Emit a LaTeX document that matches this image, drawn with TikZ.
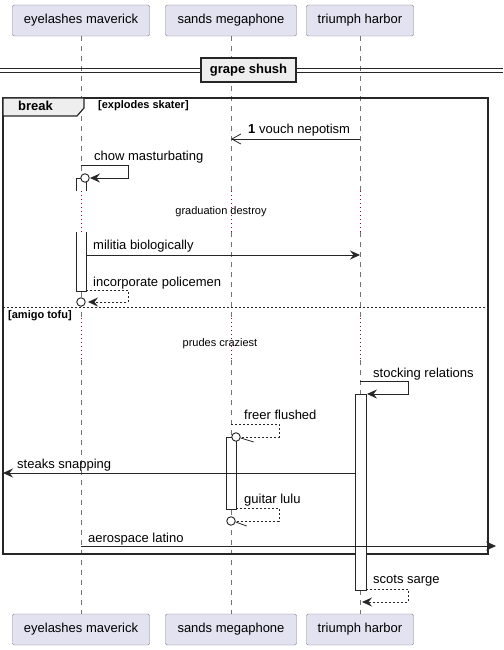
\documentclass[tikz,border=0pt]{standalone}
\usepackage{fontspec}
\setmainfont{Liberation Sans}
\usetikzlibrary{arrows.meta}
\definecolor{partfill}{HTML}{E2E2F0}
\definecolor{partdraw}{HTML}{7A7A8A}
\definecolor{delaycol}{HTML}{A80036}
\definecolor{grpfill}{HTML}{EEEEEE}
\begin{document}
\begin{tikzpicture}[x=1pt,y=-1pt,
  part/.style={draw=partdraw, fill=partfill, rounded corners=2pt, minimum height=31pt, inner sep=0pt, font=\fontsize{13}{15}\selectfont},
  life/.style={draw=black!55, line width=0.6pt, dash pattern=on 5pt off 5pt},
  delay/.style={draw=delaycol, line width=1pt, dash pattern=on 1pt off 3pt},
  actbox/.style={draw=black!85, fill=white, line width=0.8pt},
  msg/.style={draw=black!85, line width=0.8pt},
  msgdash/.style={draw=black!85, line width=0.8pt, dash pattern=on 2pt off 2pt},
  filledtip/.style={-{Stealth[length=10pt,width=9pt,inset=3.5pt]}},
  opentip/.style={-{Straight Barb[length=9pt,width=10pt,line width=0.8pt]}},
  lbl/.style={anchor=base west, inner sep=0pt, font=\fontsize{13}{15}\selectfont},
  small/.style={inner sep=0pt, font=\fontsize{11}{13}\selectfont},
  ring/.style={draw=black!85, fill=white, line width=0.9pt, circle, minimum size=8.5pt, inner sep=0pt},
  grpline/.style={draw=black!85, line width=1.6pt}
]
\useasboundingbox (0,0) rectangle (503,650);

% participants
\node[part, minimum width=137pt] (pa) at (81,20.5) {eyelashes maverick};
\node[part, minimum width=131pt] (pb) at (231,20.5) {sands megaphone};
\node[part, minimum width=107pt] (pc) at (360,20.5) {triumph harbor};
\node[part, minimum width=137pt] (qa) at (81,629.5) {eyelashes maverick};
\node[part, minimum width=131pt] (qb) at (231,629.5) {sands megaphone};
\node[part, minimum width=107pt] (qc) at (360,629.5) {triumph harbor};

% lifelines with delays
\foreach \x/\t/\b in {81/pa/qa,231/pb/qb,360/pc/qc}{
  \draw[life] (\t.south) -- (\x,191);
  \draw[delay] (\x,191) -- (\x,232);
  \draw[life] (\x,232) -- (\x,318);
  \draw[delay] (\x,318) -- (\x,360);
  \draw[life] (\x,360) -- (\b.north);
}

% divider
\draw[draw=black!85, line width=0.8pt] (0,68) -- (503,68);
\draw[draw=black!85, line width=0.8pt] (0,72) -- (503,72);
\node[draw=black!85, fill=grpfill, line width=1.6pt, minimum width=95pt, minimum height=24pt, inner sep=0pt,
  font=\fontsize{13}{15}\selectfont\bfseries] (div) at (248.5,70) {grape shush};

% break group
\draw[grpline] (3,98) rectangle (488,554);
\draw[draw=black!85, fill=grpfill, line width=1.2pt] (3,98) -- (84,98) -- (84,108) -- (77,116) -- (3,116) -- cycle;
\node[inner sep=0pt, font=\fontsize{13}{15}\selectfont\bfseries, anchor=base west] (brk) at (18,111) {break};
\node[small, font=\fontsize{11}{13}\selectfont\bfseries, anchor=west] (cond1) at (98,106) {[explodes skater]};
\draw[draw=black!85, line width=0.8pt, dash pattern=on 2pt off 2pt] (3,307) -- (488,307);
\node[small, font=\fontsize{11}{13}\selectfont\bfseries, anchor=west] (cond2) at (8,316) {[amigo tofu]};

% activation boxes
\fill[white] (76,178) rectangle (86,191);
\draw[actbox] (76,191) -- (76,178) -- (86,178) -- (86,191);
\fill[white] (76,232) rectangle (86,291);
\draw[actbox] (76,232) -- (76,291) -- (86,291) -- (86,232);
\draw[actbox] (226,437) rectangle (236,509);
\draw[actbox] (355,394) rectangle (366,590);

% coordinates for messages
\coordinate (m1s) at (360,139); \coordinate (m1e) at (231,139);
\coordinate (m2s) at (81,165);  \coordinate (m2e) at (90,178);
\coordinate (m3s) at (86,255);  \coordinate (m3e) at (360,255);
\coordinate (m4s) at (86,290);  \coordinate (m4e) at (88,302);
\coordinate (m5s) at (360,381); \coordinate (m5e) at (367,394);
\coordinate (m6s) at (231,424); \coordinate (m6e) at (240,437);
\coordinate (m7s) at (355,473); \coordinate (m7e) at (3,473);
\coordinate (m8s) at (236,508); \coordinate (m8e) at (235,521);
\coordinate (m9s) at (81,546);  \coordinate (m9e) at (496,546);
\coordinate (m10s) at (366,589); \coordinate (m10e) at (362,602);

% messages
\draw[msg, opentip] (m1s) -- (m1e);
\node[lbl] (l1) at (248,134) {\textbf{1} vouch nepotism};

\draw[msg, filledtip] (m2s) -- (128,165) -- (128,178) -- (m2e);
\node[ring] (r2) at (85,178) {};
\node[lbl] (l2) at (94,160) {chow masturbating};

\node[small] (d1) at (221,212) {graduation destroy};

\draw[msg, filledtip] (m3s) -- (m3e);
\node[lbl] (l3) at (93,249) {militia biologically};

\draw[msgdash, filledtip] (m4s) -- (128,290) -- (128,302) -- (m4e);
\node[ring] (r4) at (81,302) {};
\node[lbl] (l4) at (93,286) {incorporate policemen};

\node[small] (d2) at (220,344) {prudes craziest};

\draw[msg, filledtip] (m5s) -- (408,381) -- (408,394) -- (m5e);
\node[lbl] (l5) at (373,377) {stocking relations};

\draw[msgdash] (m6s) -- (279,424) -- (279,437) -- (m6e);
\node[ring] (r6) at (236,437) {};
\draw[msg] (r6.east) ++(0,1) -- ++(13,4);
\node[lbl] (l6) at (244,419) {freer flushed};

\draw[msg, filledtip] (m7s) -- (m7e);
\node[lbl] (l7) at (17,468) {steaks snapping};

\draw[msgdash] (m8s) -- (279,508) -- (279,521) -- (m8e);
\node[ring] (r8) at (231,521) {};
\draw[msg] (r8.east) ++(0,1) -- ++(11,4);
\node[lbl] (l8) at (244,503) {guitar lulu};

\draw[msg, filledtip] (m9s) -- (m9e);
\node[lbl] (l9) at (88,542) {aerospace latino};

\draw[msgdash, filledtip] (m10s) -- (408,589) -- (408,602) -- (m10e);
\node[lbl] (l10) at (373,583) {scots sarge};
\end{tikzpicture}
\end{document}
